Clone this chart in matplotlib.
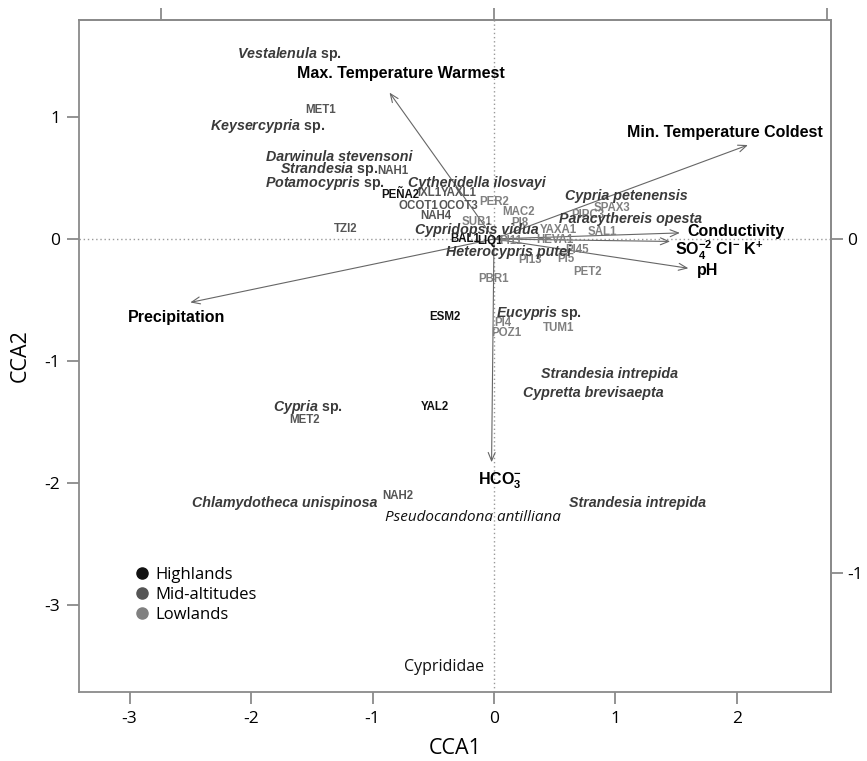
import matplotlib
matplotlib.use('Agg')
import matplotlib.pyplot as plt
from matplotlib.lines import Line2D

# sites (CCA scores), group: 0 highlands, 1 mid-altitudes, 2 lowlands
site_names = ['MET1', 'NAH1', 'PEÑA2', 'IXL1', 'YAXL1', 'OCOT1', 'OCOT3', 'PER2',
              'NAH4', 'MAC2', 'SUB1', 'PI8', 'TZI2', 'BAL1', 'LIQ1', 'PI11',
              'SPAX3', 'PIPC3', 'YAXA1', 'HEVA1', 'SAL1', 'PI13', 'PI5', 'PI45',
              'PET2', 'PBR1', 'ESM2', 'PI4', 'POZ1', 'TUM1', 'YAL2', 'MET2', 'NAH2']
site_x = [-1.43, -0.83, -0.77, -0.53, -0.29, -0.62, -0.29, 0.00,
          -0.48, 0.20, -0.14, 0.21, -1.22, -0.24, -0.03, 0.14,
          0.97, 0.77, 0.53, 0.50, 0.89, 0.30, 0.59, 0.68,
          0.77, 0.00, -0.40, 0.07, 0.10, 0.53, -0.49, -1.56, -0.79]
site_y = [1.06, 0.56, 0.36, 0.38, 0.38, 0.27, 0.27, 0.30,
          0.19, 0.22, 0.14, 0.13, 0.08, 0.00, -0.02, -0.02,
          0.25, 0.20, 0.07, -0.01, 0.06, -0.17, -0.16, -0.09,
          -0.27, -0.33, -0.64, -0.69, -0.77, -0.73, -1.38, -1.48, -2.11]
site_group = [1, 1, 0, 1, 1, 1, 1, 2,
              1, 2, 2, 2, 1, 0, 0, 2,
              2, 2, 2, 2, 2, 2, 2, 2,
              2, 2, 0, 2, 2, 2, 0, 1, 1]

# species scores
species = ['Vestalenula sp.', 'Keysercypria sp.', 'Darwinula stevensoni', 'Strandesia sp.',
           'Potamocypris sp.', 'Cytheridella ilosvayi', 'Cypria petenensis',
           'Paracythereis opesta', 'Cypridopsis vidua', 'Heterocypris putei', 'Eucypris sp.',
           'Strandesia intrepida', 'Cypretta brevisaepta', 'Cypria sp.',
           'Chlamydotheca unispinosa', 'Strandesia intrepida']
sp_x = [-1.68, -1.86, -1.27, -1.36, -1.39, -0.14, 1.09, 1.12, -0.14, 0.12, 0.37,
        0.95, 0.82, -1.53, -1.72, 1.18]
sp_y = [1.52, 0.93, 0.67, 0.57, 0.46, 0.46, 0.35, 0.16, 0.07, -0.11, -0.61,
        -1.11, -1.26, -1.38, -2.16, -2.16]

# environmental vectors (arrow tips) and label anchors
env_names = ['Max. Temperature Warmest', 'Min. Temperature Coldest', 'Conductivity',
             r'SO$_4^{-2}$ Cl$^{-}$ K$^{+}$', 'pH', 'Precipitation', r'HCO$_3^{-}$']
env_x = [-0.86, 2.09, 1.53, 1.45, 1.60, -2.50, -0.02]
env_y = [1.20, 0.77, 0.05, -0.02, -0.24, -0.52, -1.83]
env_lab_x = [-0.77, 1.90, 1.59, 1.49, 1.67, -2.61, 0.05]
env_lab_y = [1.36, 0.87, 0.06, -0.09, -0.26, -0.64, -1.98]
env_ha = ['center', 'center', 'left', 'left', 'left', 'center', 'center']

groups = ['Highlands', 'Mid-altitudes', 'Lowlands']
group_colors = ['#111111', '#555555', '#808080']

plt.rcParams['axes.unicode_minus'] = False
plt.rcParams['mathtext.fontset'] = 'custom'
plt.rcParams['mathtext.rm'] = 'Liberation Sans:bold'
plt.rcParams['mathtext.bf'] = 'Liberation Sans:bold'
plt.rcParams['mathtext.it'] = 'Liberation Sans:italic:bold'
plt.rcParams['mathtext.bfit'] = 'Liberation Sans:italic:bold'

fig = plt.figure(figsize=(8.67, 7.61), dpi=100)
ax = fig.add_axes([79 / 867, 1 - 692 / 761, 752 / 867, 672 / 761])
ax.set_xlim(-3.416, 2.774)
ax.set_ylim(-3.713, 1.795)

frame_col = '#8a8a8a'
for s in ax.spines.values():
    s.set_color(frame_col)
    s.set_linewidth(1.3)

ax.axhline(0, color='#999999', ls=(0, (1, 2)), lw=1, zorder=0)
ax.axvline(0, color='#999999', ls=(0, (1, 2)), lw=1, zorder=0)

# arrows
for ex, ey in zip(env_x, env_y):
    ax.annotate('', xy=(ex, ey), xytext=(0, 0),
                arrowprops=dict(arrowstyle='->,head_length=0.6,head_width=0.25',
                                color='#666666', lw=0.8, shrinkA=0, shrinkB=0))

# sites
for name, x, y, g in zip(site_names, site_x, site_y, site_group):
    ax.text(x, y, name, ha='center', va='center', fontsize=8.3, fontweight='bold',
            family=['Liberation Sans Narrow', 'Liberation Sans'], color=group_colors[g])

# species
for name, x, y in zip(species, sp_x, sp_y):
    if name.endswith(' sp.'):
        label = r'$\mathbfit{' + name[:-4] + '}$ sp.'
        ax.text(x, y, label, ha='center', va='center', fontsize=10.3,
                fontweight='bold', family='Liberation Sans', color='#3a3a3a')
    else:
        ax.text(x, y, name, ha='center', va='center', fontsize=10.3,
                fontweight='bold', style='italic', family='Liberation Sans',
                color='#3a3a3a')

ax.text(-0.17, -2.28, 'Pseudocandona antilliana', ha='center', va='center',
        fontsize=11, style='italic', family='Open Sans', color='#111111')
ax.text(-0.41, -3.51, 'Cyprididae', ha='center', va='center',
        fontsize=11.5, family='Open Sans', color='#111111')

# env labels
for name, lx, ly, ha in zip(env_names, env_lab_x, env_lab_y, env_ha):
    ax.text(lx, ly, name, ha=ha, va='center', fontsize=11.5, fontweight='bold',
            family='Liberation Sans', color='black')

# axes ticks
ax.set_xticks([-3, -2, -1, 0, 1, 2])
ax.set_yticks([-3, -2, -1, 0, 1])
ax.tick_params(direction='out', length=8.5, width=1.3, color=frame_col,
               labelsize=12.5, pad=5)
for lab in ax.get_xticklabels() + ax.get_yticklabels():
    lab.set_family('Open Sans')
ax.set_xlabel('CCA1', fontsize=15.5, family='Open Sans', labelpad=8)
ax.set_ylabel('CCA2', fontsize=15.5, family='Open Sans', labelpad=10)

scale = 2.74
sx = ax.secondary_xaxis('top', functions=(lambda v: v / scale, lambda v: v * scale))
sx.set_xticks([-1, 0, 1])
sx.set_xticklabels([])
sx.tick_params(direction='out', length=8.5, width=1.3, color=frame_col)
sy = ax.secondary_yaxis('right', functions=(lambda v: v / scale, lambda v: v * scale))
sy.set_yticks([-1, 0])
sy.set_yticklabels(['-1', '0'])
sy.tick_params(direction='out', length=8.5, width=1.3, color=frame_col,
               labelsize=12.5, pad=3)
for lab in sy.get_yticklabels():
    lab.set_family('Open Sans')
for sec in (sx, sy):
    for s in sec.spines.values():
        s.set_color(frame_col)
        s.set_linewidth(1.3)

handles = [Line2D([], [], marker='o', ls='', color=c, markersize=8) for c in group_colors]
ax.legend(handles, groups, loc='upper left', bbox_to_anchor=(0.055, 0.204),
          frameon=False, handletextpad=0.2, labelspacing=0.25, handlelength=1.2,
          borderpad=0.2, prop={'family': 'Open Sans', 'size': 12})

fig.savefig('out.png', dpi=100)
